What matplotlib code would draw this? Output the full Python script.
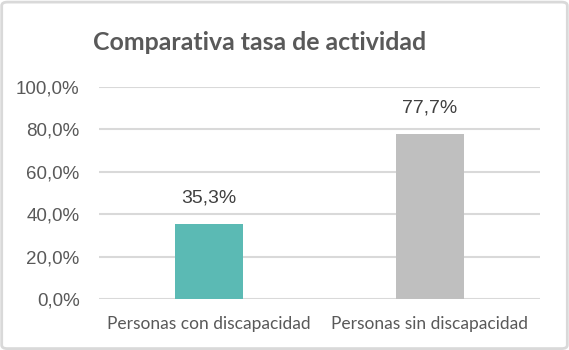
import matplotlib.pyplot as plt
from matplotlib.patches import FancyBboxPatch

categories = ["Personas con discapacidad", "Personas sin discapacidad"]
values = [35.3, 77.7]
colors = ["#5BBAB4", "#BFBFBF"]
yticks = [0, 20, 40, 60, 80, 100]

fig = plt.figure(figsize=(5.69, 3.5), dpi=100)
ax = fig.add_axes([99 / 569, 1 - 299.3 / 350, 441 / 569, 212.6 / 350])

x = range(len(categories))
ax.bar(x, values, width=0.31, color=colors, zorder=3)
for i, v in enumerate(values):
    ax.annotate(f"{v:.1f}%".replace(".", ","), (i, v), xytext=(0, 19),
                textcoords="offset points", ha="center", va="center",
                fontsize=14, color="#404040", family="Liberation Sans")

ax.set_xlim(-0.5, 1.5)
ax.set_ylim(0, 100)
ax.set_yticks(yticks)
ax.set_yticklabels([f"{t:.1f}%".replace(".", ",") for t in yticks],
                   fontsize=13.5, color="#595959", family="Liberation Sans")
ax.set_xticks(list(x))
ax.set_xticklabels(categories, fontsize=12.5, color="#595959", family="Lato")
ax.tick_params(length=0, axis="y", pad=14)
ax.tick_params(length=0, axis="x", pad=12)
ax.grid(axis="y", color="#D9D9D9", linewidth=1.5, zorder=0)
for s in ax.spines.values():
    s.set_visible(False)

fig.text(260 / 569, 1 - 42 / 350, "Comparativa tasa de actividad", ha="center",
         va="center", fontsize=17.9, fontweight="bold", color="#595959",
         family="Lato")

border = FancyBboxPatch((0.003, 0.004), 0.994, 0.99, boxstyle="round,pad=0,rounding_size=0.01",
                        transform=fig.transFigure, fill=False,
                        edgecolor="#D9D9D9", linewidth=2)
fig.patches.append(border)

fig.savefig("out.png", dpi=100)
